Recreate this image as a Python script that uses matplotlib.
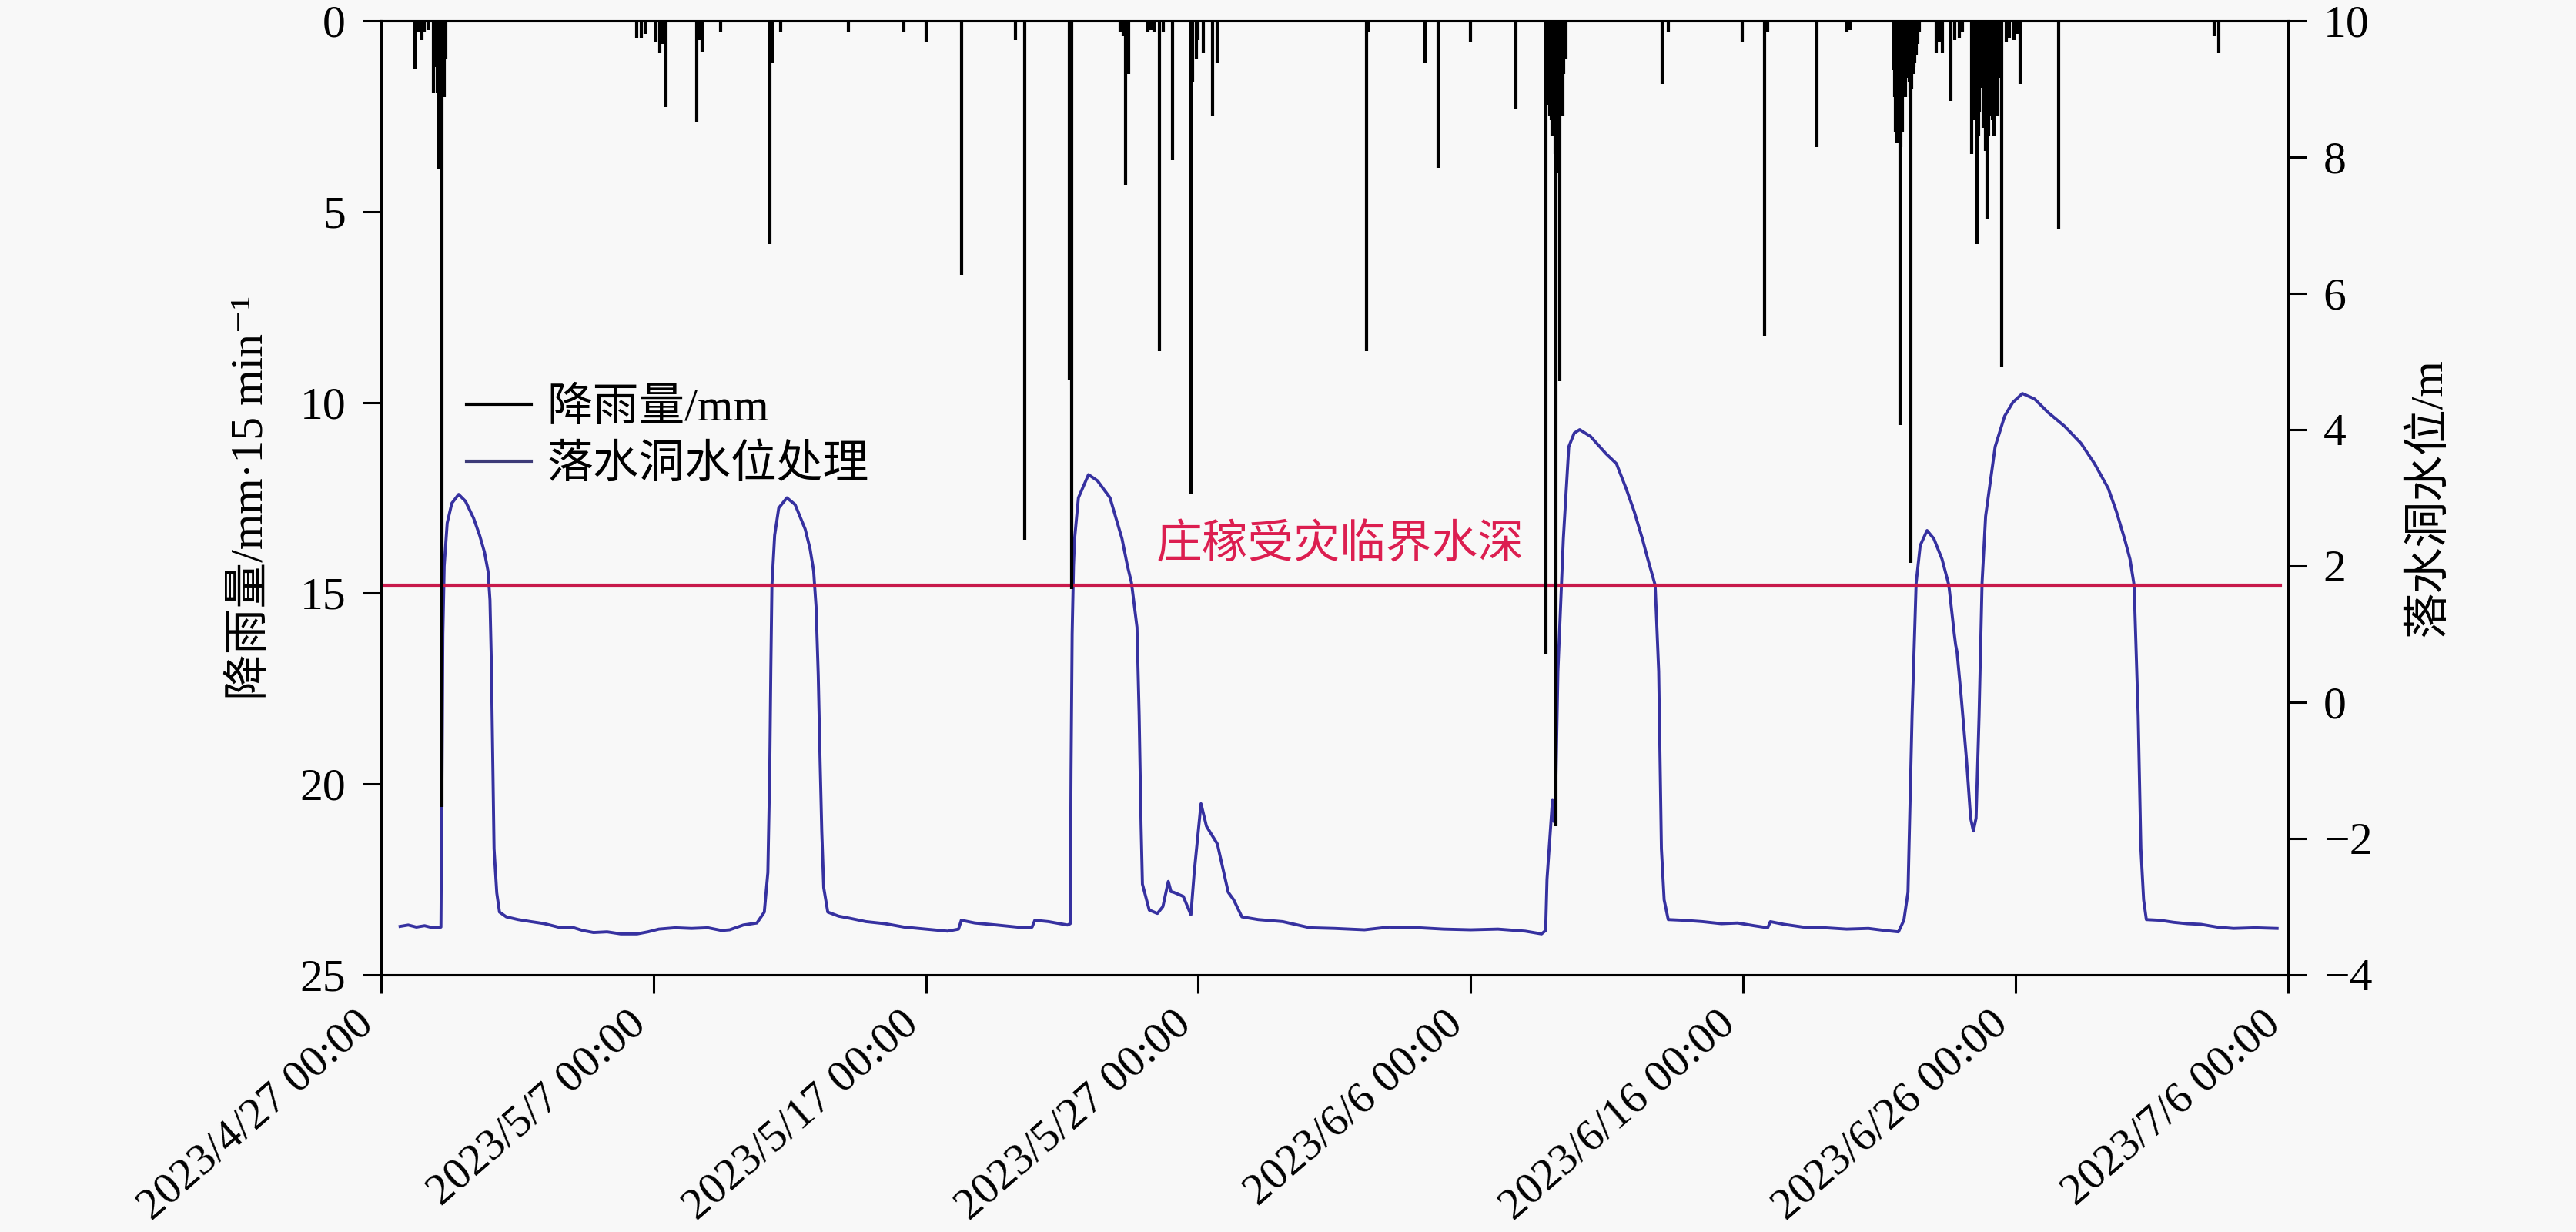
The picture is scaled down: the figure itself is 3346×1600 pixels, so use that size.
import numpy as np
import pandas as pd
import matplotlib
matplotlib.use('Agg')
import matplotlib.pyplot as plt
from matplotlib.lines import Line2D

# ---------------- data ----------------
START = pd.Timestamp('2023-04-27 00:00')
END = pd.Timestamp('2023-07-06 00:00')

# rainfall per 15 min (mm); x = days after 2023/4/27 00:00
rain_day = [1.24, 1.38, 1.50, 1.60, 1.72, 1.92, 2.00, 2.06, 2.12, 2.23, 2.28, 2.32, 2.37,
            9.38, 9.55, 9.70, 10.09, 10.23, 10.34, 10.45, 11.59, 11.67, 11.78, 12.46,
            14.27, 14.35, 14.66, 17.15, 19.19, 20.00, 21.31, 23.28, 23.62,
            25.26, 25.35, 27.13, 27.24, 27.32, 27.44, 28.14, 28.26, 28.37, 28.57, 28.71,
            29.05, 29.73, 29.79, 29.92, 30.00, 30.18, 30.52, 30.69, 36.17, 36.23,
            38.32, 38.80, 39.98, 41.65,
            42.75, 42.80, 42.85, 42.90, 42.95, 43.00, 43.05, 43.10, 43.13, 43.16, 43.20,
            43.23, 43.26, 43.30, 43.33, 43.37, 43.42, 43.49,
            47.02, 47.25, 49.96, 50.78, 50.89, 52.70, 53.80, 53.92,
            55.52, 55.55, 55.60, 55.65, 55.70, 55.75, 55.80, 55.84, 55.90, 55.95, 56.00,
            56.05, 56.09, 56.12, 56.15, 56.19, 56.23, 56.27, 56.30, 56.35, 56.40, 56.48,
            57.08, 57.19, 57.30, 57.62, 57.78, 57.93, 58.05,
            58.40, 58.45, 58.50, 58.58, 58.63, 58.68, 58.72, 58.80, 58.86, 58.90, 58.96,
            59.00, 59.05, 59.10, 59.15, 59.22, 59.28, 59.34, 59.40, 59.50, 59.65, 59.78,
            59.94, 60.05, 60.17, 61.57, 67.28, 67.45]
rain_mm = [1.25, 0.30, 0.50, 0.30, 0.25, 1.90, 1.20, 1.90, 3.90, 20.6, 1.90, 2.00, 1.00,
           0.45, 0.45, 0.35, 0.55, 0.85, 0.60, 2.25, 2.65, 0.50, 0.80, 0.30,
           5.85, 1.10, 0.30, 0.30, 0.30, 0.55, 6.65, 0.50, 13.6,
           9.40, 14.9, 0.30, 0.40, 4.30, 1.40, 0.30, 0.25, 0.30, 8.65, 0.30,
           3.65, 12.4, 1.60, 1.00, 0.50, 0.85, 2.50, 1.10, 8.65, 0.30,
           1.10, 3.85, 0.55, 2.30,
           16.6, 1.80, 2.20, 2.50, 2.60, 3.00, 2.80, 3.50, 21.1, 3.80, 4.00,
           3.00, 9.45, 2.20, 1.80, 2.50, 1.40, 1.00,
           1.65, 0.30, 0.55, 8.25, 0.30, 3.30, 0.30, 0.25,
           1.30, 2.00, 2.90, 3.20, 2.20, 10.6, 3.30, 2.90, 1.70, 2.00, 1.30,
           1.50, 1.60, 2.00, 14.2, 1.80, 1.40, 1.20, 1.10, 0.90, 0.60, 0.30,
           0.85, 0.55, 0.85, 2.10, 0.50, 0.45, 0.30,
           3.50, 2.00, 2.60, 5.85, 3.00, 2.40, 1.75, 2.80, 2.20, 3.40, 5.20,
           3.00, 2.50, 2.20, 2.60, 3.00, 2.20, 2.50, 1.50, 9.05, 0.55, 0.45,
           0.50, 0.35, 1.65, 5.45, 0.40, 0.85]

# processed sinkhole water level (m); x = days after 2023/4/27 00:00
level_day = [0.70, 1.00, 1.30, 1.60, 1.90, 2.20, 2.24, 2.27, 2.32, 2.43, 2.60, 2.85, 3.10, 3.40,
             3.62, 3.80, 3.93, 4.00, 4.05, 4.10, 4.15, 4.25, 4.35, 4.60, 5.03, 5.50, 6.00,
             6.60, 7.00, 7.40, 7.80, 8.30, 8.80, 9.40, 9.80, 10.2, 10.8, 11.4, 12.0, 12.5,
             12.8, 13.3, 13.8, 14.07, 14.20,
             14.27, 14.31, 14.35, 14.45, 14.60, 14.90, 15.20, 15.57, 15.75, 15.88, 15.97,
             16.05, 16.12, 16.18, 16.25, 16.40, 16.80, 17.20, 17.80, 18.50, 19.20, 20.00,
             20.80, 21.20, 21.30, 21.80, 22.60, 23.60, 23.90, 24.00, 24.50, 25.20,
             25.30, 25.33, 25.37, 25.42, 25.46, 25.60, 25.97, 26.30, 26.76, 27.20, 27.40,
             27.55, 27.75, 27.83, 27.90, 27.95, 28.20, 28.50, 28.70, 28.90, 29.00, 29.10,
             29.45, 29.73, 29.85, 30.10, 30.30, 30.50, 30.70, 31.10, 31.30, 31.60, 32.20,
             33.10, 34.10, 35.00, 36.10, 37.00, 38.10, 39.00, 40.00, 41.00, 42.00, 42.60,
             42.75,
             42.80, 43.00, 43.05, 43.10, 43.20, 43.40, 43.60, 43.80, 44.00, 44.40, 44.96,
             45.35, 45.70, 46.00, 46.30, 46.50, 46.77, 46.90, 47.00, 47.10, 47.25, 47.80,
             48.50, 49.20, 49.80, 50.40, 50.90, 51.00, 51.50, 52.20, 53.00, 53.80, 54.60,
             55.20, 55.70, 55.90,
             56.05, 56.20, 56.35, 56.50, 56.75, 57.00, 57.30, 57.55, 57.75, 57.80, 57.85,
             58.00, 58.20, 58.35, 58.45, 58.55, 58.66, 58.77, 58.90, 59.25, 59.60, 59.90,
             60.25, 60.70, 61.20, 61.80, 62.40, 62.90, 63.40, 63.70, 64.00, 64.20, 64.35,
             64.50, 64.60, 64.70, 64.80, 65.30, 65.80, 66.30, 66.80, 67.40, 68.00, 68.80,
             69.60]
level_m = [-3.29, -3.27, -3.30, -3.28, -3.31, -3.30, -1.00, 1.00, 2.00, 2.63, 2.92, 3.05, 2.95, 2.70,
           2.45, 2.20, 1.92, 1.50, 0.60, -0.80, -2.15, -2.80, -3.08, -3.15, -3.19, -3.22, -3.25,
           -3.31, -3.30, -3.35, -3.38, -3.37, -3.40, -3.40, -3.37, -3.33, -3.31, -3.32, -3.31, -3.35,
           -3.34, -3.27, -3.24, -3.08, -2.50,
           -1.00, 0.50, 1.72, 2.45, 2.85, 3.00, 2.90, 2.54, 2.25, 1.93, 1.40,
           0.40, -0.90, -1.90, -2.72, -3.08, -3.14, -3.17, -3.22, -3.25, -3.30, -3.33,
           -3.36, -3.33, -3.20, -3.24, -3.27, -3.31, -3.30, -3.20, -3.22, -3.27,
           -3.25, -1.00, 1.00, 2.00, 2.40, 3.00, 3.34, 3.25, 3.00, 2.40, 2.00,
           1.75, 1.10, -0.20, -1.80, -2.67, -3.05, -3.10, -3.00, -2.63, -2.78, -2.79,
           -2.85, -3.12, -2.50, -1.49, -1.82, -1.95, -2.08, -2.79, -2.90, -3.15, -3.19,
           -3.22, -3.31, -3.32, -3.34, -3.30, -3.31, -3.33, -3.34, -3.33, -3.36, -3.40,
           -3.35,
           -2.60, -1.44, -1.75, -1.70, 0.45, 2.40, 3.75, 3.95, 4.00, 3.90, 3.65,
           3.50, 3.14, 2.80, 2.40, 2.10, 1.72, 0.45, -2.15, -2.90, -3.19, -3.20,
           -3.22, -3.25, -3.24, -3.28, -3.31, -3.22, -3.26, -3.30, -3.31, -3.33, -3.32,
           -3.35, -3.37, -3.20,
           -2.79, -0.20, 1.75, 2.30, 2.52, 2.40, 2.10, 1.72, 1.00, 0.84, 0.74,
           0.10, -0.85, -1.70, -1.89, -1.70, -0.20, 1.75, 2.73, 3.75, 4.20, 4.40,
           4.53, 4.45, 4.25, 4.05, 3.80, 3.50, 3.14, 2.80, 2.40, 2.10, 1.72,
           -0.20, -2.15, -2.90, -3.19, -3.20, -3.23, -3.25, -3.26, -3.30, -3.32, -3.31,
           -3.32]

critical_depth = 1.72
critical_label = '庄稼受灾临界水深'

tick_dates = ['2023-04-27', '2023-05-07', '2023-05-17', '2023-05-27',
              '2023-06-06', '2023-06-16', '2023-06-26', '2023-07-06']
tick_labels = ['2023/4/27 00:00', '2023/5/7 00:00', '2023/5/17 00:00', '2023/5/27 00:00',
               '2023/6/6 00:00', '2023/6/16 00:00', '2023/6/26 00:00', '2023/7/6 00:00']
left_ticks = [0, 5, 10, 15, 20, 25]
right_ticks = [-4, -2, 0, 2, 4, 6, 8, 10]

legend_labels = ['降雨量/mm', '落水洞水位处理']
left_ylabel = '降雨量/mm·15 min⁻¹'
right_ylabel = '落水洞水位/m'

# ---------------- style ----------------
FAM = ['Liberation Serif', 'Noto Sans CJK SC', 'DejaVu Serif']
plt.rcParams['font.family'] = FAM
plt.rcParams['font.size'] = 43
plt.rcParams['axes.unicode_minus'] = True

BG = '#F8F8F8'
RAIN_C = '#000000'
LEVEL_C = '#3631A0'
CRIT_C = '#C8194B'
TEXT_C = '#DC1E50'

fig = plt.figure(figsize=(33.46, 16), dpi=100, facecolor=BG)
ax = fig.add_axes([0.1479, 0.2088, 0.7403, 0.7743])
ax2 = ax.twinx()
ax.set_zorder(2)
ax2.set_zorder(1)
ax.patch.set_visible(False)
ax2.patch.set_visible(False)

rain_t = START + pd.to_timedelta(np.array(rain_day), unit='D')
level_t = START + pd.to_timedelta(np.array(level_day), unit='D')

# water level (right axis)
ax2.plot(level_t, level_m, color=LEVEL_C, lw=2.8, solid_joinstyle='round')
ax2.axhline(critical_depth, xmin=0.0, xmax=0.996, color=CRIT_C, lw=3.0)
ax2.text(0.503, 0.449, critical_label, transform=ax2.transAxes, color=TEXT_C,
         fontsize=43, ha='center', va='center', family=FAM)
ax2.set_ylim(-4, 10)
ax2.set_yticks(right_ticks)
ax2.set_ylabel(right_ylabel, fontsize=43, family=FAM)
ax2.yaxis.set_label_coords(1.063, 0.5)

# rainfall (left axis, inverted)
ax.vlines(rain_t, 0, rain_mm, color=RAIN_C, lw=3.0)
ax.set_ylim(25, 0)
ax.set_yticks(left_ticks)
ax.set_ylabel(left_ylabel, fontsize=43, family=FAM)
ax.yaxis.set_label_coords(-0.057, 0.5)

ax.set_xlim(START, END)
ax.set_xticks(pd.to_datetime(tick_dates))
ax.set_xticklabels(tick_labels, rotation=41, ha='right', rotation_mode='default',
                   fontsize=42)

for a in (ax, ax2):
    for s in a.spines.values():
        s.set_linewidth(2.2)
        s.set_color('black')
ax.tick_params(axis='both', direction='out', length=17, width=2.2)
ax.tick_params(axis='y', pad=16, labelsize=43)
ax.tick_params(axis='x', pad=10)
ax2.tick_params(axis='y', direction='out', length=17, width=2.2, labelsize=43, pad=16)

handles = [Line2D([], [], color=RAIN_C, lw=3.0), Line2D([], [], color='#3D3B78', lw=3.0)]
ax.legend(handles, legend_labels, loc='center left', bbox_to_anchor=(0.045, 0.563),
          frameon=False, handlelength=1.4, handletextpad=0.35, borderpad=0,
          borderaxespad=0, labelspacing=0.3, prop={'family': FAM, 'size': 43})

fig.savefig('out.png', dpi=100, facecolor=BG)
